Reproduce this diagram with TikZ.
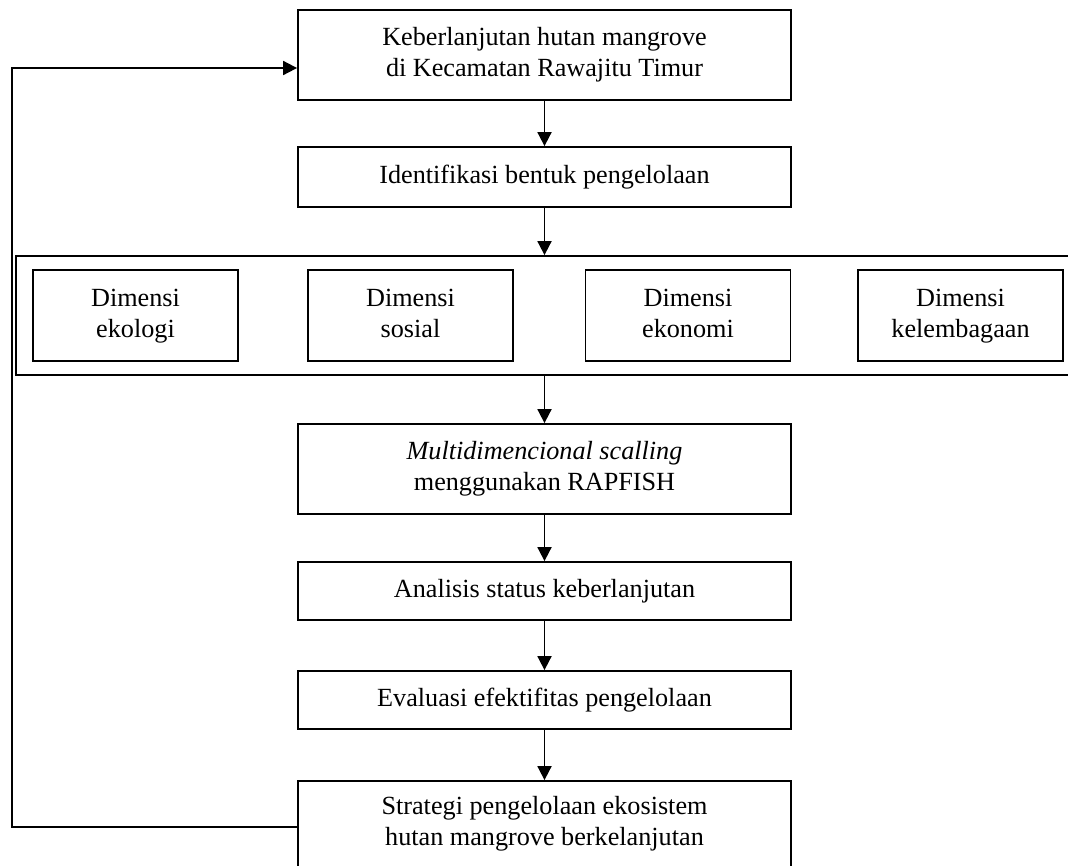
\documentclass[tikz,border=0pt]{standalone}
\usepackage{fontspec}
\setmainfont{Liberation Serif}
\usetikzlibrary{calc, positioning}
\usetikzlibrary{arrows.meta}

\tikzset{
  box/.style={draw, line width=1.8pt, align=center, inner sep=0pt, minimum width=493pt},
  dimbox/.style={draw, line width=1.8pt, align=center, inner sep=0pt, minimum width=205pt, minimum height=91pt},
  flow/.style={-{Triangle[length=14pt, width=14pt]}, line width=1.8pt},
}

\begin{document}
\begin{tikzpicture}[x=1pt, y=-1pt, font=\fontsize{26.2}{31}\selectfont]
\def\xMid{544.5}
\def\xBack{12}
\def\yDim{315.5}

\clip (0,0) rectangle (1068,865);

% kolom utama
\node[box, minimum height=90pt] (keb) at (\xMid,55) {Keberlanjutan hutan mangrove\\di Kecamatan Rawajitu Timur};
\node[box, minimum height=60pt] (ident) at (\xMid,177) {Identifikasi bentuk pengelolaan};

% dimensi
\node[draw, line width=1.8pt, minimum width=1069pt, minimum height=119pt] (dims) at (550.5,\yDim) {};
\node[dimbox] (ekol) at (135.5,\yDim) {\strut Dimensi\\\strut ekologi};
\node[dimbox] (sos) at (410.5,\yDim) {\strut Dimensi\\\strut sosial};
\node[dimbox] (ekon) at (688,\yDim) {\strut Dimensi\\\strut ekonomi};
\node[dimbox] (lemb) at (960.5,\yDim) {\strut Dimensi\\\strut kelembagaan};

\node[box, minimum height=90pt] (mds) at (\xMid,469) {\textit{Multidimencional scalling}\\menggunakan RAPFISH};
\node[box, minimum height=58pt] (anal) at (\xMid,591) {Analisis status keberlanjutan};
\node[box, minimum height=58pt] (eval) at (\xMid,700) {Evaluasi efektifitas pengelolaan};
\node[box, minimum height=86pt] (strat) at (\xMid,824) {Strategi pengelolaan ekosistem\\hutan mangrove berkelanjutan};

\coordinate (back) at (\xBack,0);

% panah
\draw[flow] (keb) -- (ident);
\draw[flow] (ident.south) -- (ident.south |- dims.north);
\draw[flow] (dims.south -| mds.north) -- (mds.north);
\draw[flow] (mds) -- (anal);
\draw[flow] (anal) -- (eval);
\draw[flow] (eval) -- (strat);
\draw[flow] ([yshift=-3pt]strat.west) -- ([yshift=-3pt]strat.west -| back) |- ([yshift=-13pt]keb.west);
\end{tikzpicture}
\end{document}
